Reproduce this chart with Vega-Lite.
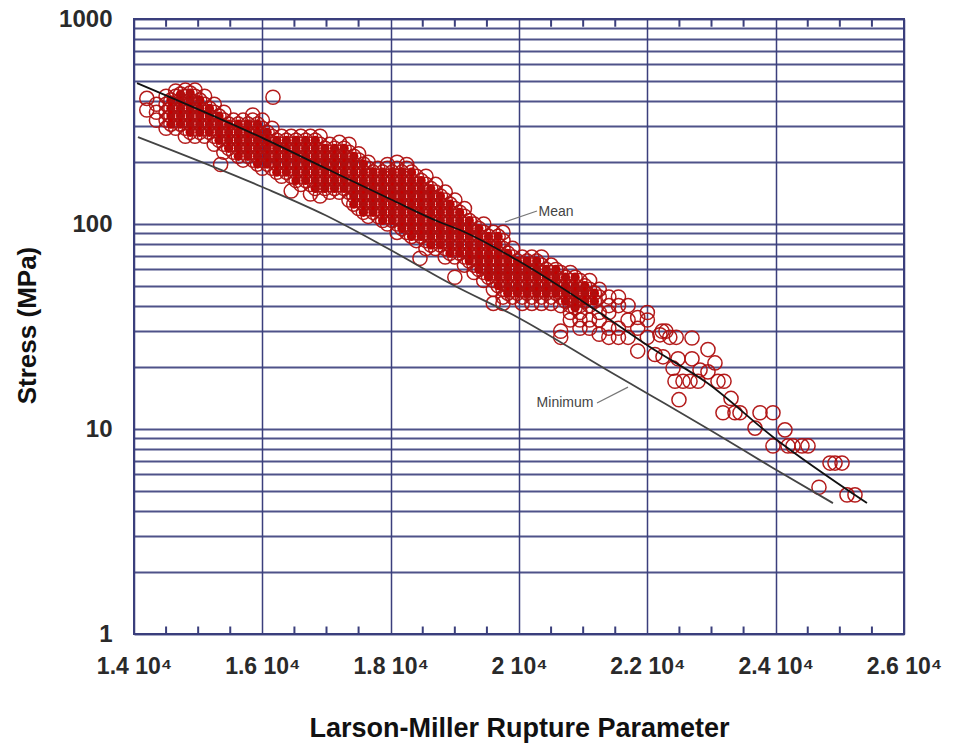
{"$schema":"https://vega.github.io/schema/vega-lite/v6.json","width":770,"height":615,"autosize":"none","padding":{"left":134,"top":19,"right":51,"bottom":109},"background":"white",
"config":{"view":{"stroke":"#3b3f7c","strokeWidth":2},"font":"Liberation Sans"},
"datasets":{
"minorTicks":[{"lmp":14500,"at":1.04},{"lmp":15000,"at":1.04},{"lmp":15500,"at":1.04},{"lmp":16500,"at":1.04},{"lmp":17000,"at":1.04},{"lmp":17500,"at":1.04},{"lmp":18500,"at":1.04},{"lmp":19000,"at":1.04},{"lmp":19500,"at":1.04},{"lmp":20500,"at":1.04},{"lmp":21000,"at":1.04},{"lmp":21500,"at":1.04},{"lmp":22500,"at":1.04},{"lmp":23000,"at":1.04},{"lmp":23500,"at":1.04},{"lmp":24500,"at":1.04},{"lmp":25000,"at":1.04},{"lmp":25500,"at":1.04},
{"lmp":14500,"at":959},{"lmp":15000,"at":959},{"lmp":15500,"at":959},{"lmp":16500,"at":959},{"lmp":17000,"at":959},{"lmp":17500,"at":959},{"lmp":18500,"at":959},{"lmp":19000,"at":959},{"lmp":19500,"at":959},{"lmp":20500,"at":959},{"lmp":21000,"at":959},{"lmp":21500,"at":959},{"lmp":22500,"at":959},{"lmp":23000,"at":959},{"lmp":23500,"at":959},{"lmp":24500,"at":959},{"lmp":25000,"at":959},{"lmp":25500,"at":959}],
"curves":[{"curve":"Mean","lmp":14047,"stress":487},{"curve":"Mean","lmp":16000,"stress":263},{"curve":"Mean","lmp":16977,"stress":187.6},{"curve":"Mean","lmp":17990,"stress":132.4},{"curve":"Mean","lmp":18769,"stress":102},{"curve":"Mean","lmp":19080,"stress":93.5},{"curve":"Mean","lmp":19969,"stress":66.7},{"curve":"Mean","lmp":21262,"stress":36.8},{"curve":"Mean","lmp":22041,"stress":25.1},{"curve":"Mean","lmp":22930,"stress":16.8},{"curve":"Mean","lmp":23958,"stress":9.14},{"curve":"Mean","lmp":25423,"stress":4.35},
{"curve":"Minimum","lmp":14062,"stress":265.6},{"curve":"Minimum","lmp":16000,"stress":151.5},{"curve":"Minimum","lmp":16977,"stress":110.6},{"curve":"Minimum","lmp":17943,"stress":76.4},{"curve":"Minimum","lmp":18972,"stress":50.4},{"curve":"Minimum","lmp":19969,"stress":35.2},{"curve":"Minimum","lmp":21371,"stress":19.4},{"curve":"Minimum","lmp":22041,"stress":14.66},{"curve":"Minimum","lmp":22976,"stress":9.89},{"curve":"Minimum","lmp":23958,"stress":6.45},{"curve":"Minimum","lmp":24893,"stress":4.35}],
"notes":[{"name":"Mean","lmp":20577,"stress":114.4,"lmp2":19782,"stress2":102.3,"lmp1":20280,"stress1":115.7},{"name":"Minimum","lmp":20717,"stress":13.4,"lmp2":21699,"stress2":16,"lmp1":21216,"stress1":13.4}],
"points":[
{"lmp":14200,"stress":360},{"lmp":14200,"stress":410},
{"lmp":14350,"stress":321},{"lmp":14350,"stress":351},{"lmp":14350,"stress":384},
{"lmp":14500,"stress":293},{"lmp":14500,"stress":321},{"lmp":14500,"stress":351},{"lmp":14500,"stress":384},{"lmp":14500,"stress":420},
{"lmp":14650,"stress":293},{"lmp":14650,"stress":321},{"lmp":14650,"stress":351},{"lmp":14650,"stress":384},{"lmp":14650,"stress":420},{"lmp":14650,"stress":445},
{"lmp":14800,"stress":268},{"lmp":14800,"stress":293},{"lmp":14800,"stress":321},{"lmp":14800,"stress":351},{"lmp":14800,"stress":384},{"lmp":14800,"stress":420},{"lmp":14800,"stress":450},
{"lmp":14950,"stress":268},{"lmp":14950,"stress":293},{"lmp":14950,"stress":321},{"lmp":14950,"stress":351},{"lmp":14950,"stress":384},{"lmp":14950,"stress":420},{"lmp":14950,"stress":450},
{"lmp":15100,"stress":268},{"lmp":15100,"stress":293},{"lmp":15100,"stress":321},{"lmp":15100,"stress":351},{"lmp":15100,"stress":384},{"lmp":15100,"stress":420},
{"lmp":15250,"stress":245},{"lmp":15250,"stress":268},{"lmp":15250,"stress":293},{"lmp":15250,"stress":321},{"lmp":15250,"stress":351},{"lmp":15250,"stress":384},
{"lmp":15350,"stress":195},
{"lmp":15400,"stress":224},{"lmp":15400,"stress":245},{"lmp":15400,"stress":268},{"lmp":15400,"stress":293},{"lmp":15400,"stress":321},{"lmp":15400,"stress":351},
{"lmp":15550,"stress":224},{"lmp":15550,"stress":245},{"lmp":15550,"stress":268},{"lmp":15550,"stress":293},{"lmp":15550,"stress":321},
{"lmp":15700,"stress":205},{"lmp":15700,"stress":224},{"lmp":15700,"stress":245},{"lmp":15700,"stress":268},{"lmp":15700,"stress":293},{"lmp":15700,"stress":321},
{"lmp":15850,"stress":205},{"lmp":15850,"stress":224},{"lmp":15850,"stress":245},{"lmp":15850,"stress":268},{"lmp":15850,"stress":293},{"lmp":15850,"stress":321},{"lmp":15850,"stress":340},
{"lmp":16000,"stress":187},{"lmp":16000,"stress":205},{"lmp":16000,"stress":224},{"lmp":16000,"stress":245},{"lmp":16000,"stress":268},{"lmp":16000,"stress":293},{"lmp":16000,"stress":321},
{"lmp":16150,"stress":187},{"lmp":16150,"stress":205},{"lmp":16150,"stress":224},{"lmp":16150,"stress":245},{"lmp":16150,"stress":268},{"lmp":16150,"stress":293},{"lmp":16166,"stress":415},
{"lmp":16300,"stress":171},{"lmp":16300,"stress":187},{"lmp":16300,"stress":205},{"lmp":16300,"stress":224},{"lmp":16300,"stress":245},{"lmp":16300,"stress":268},
{"lmp":16450,"stress":145},{"lmp":16450,"stress":171},{"lmp":16450,"stress":187},{"lmp":16450,"stress":205},{"lmp":16450,"stress":224},{"lmp":16450,"stress":245},{"lmp":16450,"stress":268},
{"lmp":16600,"stress":156},{"lmp":16600,"stress":171},{"lmp":16600,"stress":187},{"lmp":16600,"stress":205},{"lmp":16600,"stress":224},{"lmp":16600,"stress":245},{"lmp":16600,"stress":268},
{"lmp":16750,"stress":140},{"lmp":16750,"stress":156},{"lmp":16750,"stress":171},{"lmp":16750,"stress":187},{"lmp":16750,"stress":205},{"lmp":16750,"stress":224},{"lmp":16750,"stress":245},{"lmp":16750,"stress":268},
{"lmp":16900,"stress":137},{"lmp":16900,"stress":156},{"lmp":16900,"stress":171},{"lmp":16900,"stress":187},{"lmp":16900,"stress":205},{"lmp":16900,"stress":224},{"lmp":16900,"stress":245},{"lmp":16900,"stress":268},
{"lmp":17050,"stress":143},{"lmp":17050,"stress":156},{"lmp":17050,"stress":171},{"lmp":17050,"stress":187},{"lmp":17050,"stress":205},{"lmp":17050,"stress":224},{"lmp":17050,"stress":245},
{"lmp":17200,"stress":143},{"lmp":17200,"stress":156},{"lmp":17200,"stress":171},{"lmp":17200,"stress":187},{"lmp":17200,"stress":205},{"lmp":17200,"stress":224},{"lmp":17200,"stress":250},
{"lmp":17350,"stress":131},{"lmp":17350,"stress":143},{"lmp":17350,"stress":156},{"lmp":17350,"stress":171},{"lmp":17350,"stress":187},{"lmp":17350,"stress":205},{"lmp":17350,"stress":224},{"lmp":17350,"stress":245},
{"lmp":17500,"stress":119},{"lmp":17500,"stress":131},{"lmp":17500,"stress":143},{"lmp":17500,"stress":156},{"lmp":17500,"stress":171},{"lmp":17500,"stress":187},{"lmp":17500,"stress":205},{"lmp":17500,"stress":220},
{"lmp":17650,"stress":109},{"lmp":17650,"stress":119},{"lmp":17650,"stress":131},{"lmp":17650,"stress":143},{"lmp":17650,"stress":156},{"lmp":17650,"stress":171},{"lmp":17650,"stress":187},{"lmp":17650,"stress":200},
{"lmp":17800,"stress":109},{"lmp":17800,"stress":119},{"lmp":17800,"stress":131},{"lmp":17800,"stress":143},{"lmp":17800,"stress":156},{"lmp":17800,"stress":171},{"lmp":17800,"stress":187},
{"lmp":17950,"stress":100},{"lmp":17950,"stress":109},{"lmp":17950,"stress":119},{"lmp":17950,"stress":131},{"lmp":17950,"stress":143},{"lmp":17950,"stress":156},{"lmp":17950,"stress":171},{"lmp":17950,"stress":187},{"lmp":17950,"stress":195},
{"lmp":18100,"stress":91},{"lmp":18100,"stress":100},{"lmp":18100,"stress":109},{"lmp":18100,"stress":119},{"lmp":18100,"stress":131},{"lmp":18100,"stress":143},{"lmp":18100,"stress":156},{"lmp":18100,"stress":171},{"lmp":18100,"stress":187},{"lmp":18100,"stress":200},
{"lmp":18250,"stress":91},{"lmp":18250,"stress":100},{"lmp":18250,"stress":109},{"lmp":18250,"stress":119},{"lmp":18250,"stress":131},{"lmp":18250,"stress":143},{"lmp":18250,"stress":156},{"lmp":18250,"stress":171},{"lmp":18250,"stress":187},{"lmp":18250,"stress":195},
{"lmp":18400,"stress":83},{"lmp":18400,"stress":91},{"lmp":18400,"stress":100},{"lmp":18400,"stress":109},{"lmp":18400,"stress":119},{"lmp":18400,"stress":131},{"lmp":18400,"stress":143},{"lmp":18400,"stress":156},{"lmp":18400,"stress":171},{"lmp":18457,"stress":68},
{"lmp":18550,"stress":76},{"lmp":18550,"stress":83},{"lmp":18550,"stress":91},{"lmp":18550,"stress":100},{"lmp":18550,"stress":109},{"lmp":18550,"stress":119},{"lmp":18550,"stress":131},{"lmp":18550,"stress":143},{"lmp":18550,"stress":156},{"lmp":18550,"stress":171},
{"lmp":18700,"stress":76},{"lmp":18700,"stress":83},{"lmp":18700,"stress":91},{"lmp":18700,"stress":100},{"lmp":18700,"stress":109},{"lmp":18700,"stress":119},{"lmp":18700,"stress":131},{"lmp":18700,"stress":143},{"lmp":18700,"stress":156},
{"lmp":18850,"stress":69},{"lmp":18850,"stress":76},{"lmp":18850,"stress":83},{"lmp":18850,"stress":91},{"lmp":18850,"stress":100},{"lmp":18850,"stress":109},{"lmp":18850,"stress":119},{"lmp":18850,"stress":131},{"lmp":18850,"stress":143},
{"lmp":19000,"stress":55},{"lmp":19000,"stress":69},{"lmp":19000,"stress":76},{"lmp":19000,"stress":83},{"lmp":19000,"stress":91},{"lmp":19000,"stress":100},{"lmp":19000,"stress":109},{"lmp":19000,"stress":119},{"lmp":19000,"stress":131},
{"lmp":19150,"stress":63},{"lmp":19150,"stress":69},{"lmp":19150,"stress":76},{"lmp":19150,"stress":83},{"lmp":19150,"stress":91},{"lmp":19150,"stress":100},{"lmp":19150,"stress":109},{"lmp":19150,"stress":119},
{"lmp":19300,"stress":58},{"lmp":19300,"stress":63},{"lmp":19300,"stress":69},{"lmp":19300,"stress":76},{"lmp":19300,"stress":83},{"lmp":19300,"stress":91},{"lmp":19300,"stress":100},
{"lmp":19450,"stress":53},{"lmp":19450,"stress":58},{"lmp":19450,"stress":63},{"lmp":19450,"stress":69},{"lmp":19450,"stress":76},{"lmp":19450,"stress":83},{"lmp":19450,"stress":91},{"lmp":19450,"stress":100},
{"lmp":19600,"stress":41},{"lmp":19600,"stress":48},{"lmp":19600,"stress":53},{"lmp":19600,"stress":58},{"lmp":19600,"stress":63},{"lmp":19600,"stress":69},{"lmp":19600,"stress":76},{"lmp":19600,"stress":83},{"lmp":19600,"stress":91},
{"lmp":19750,"stress":41},{"lmp":19750,"stress":44},{"lmp":19750,"stress":48},{"lmp":19750,"stress":53},{"lmp":19750,"stress":58},{"lmp":19750,"stress":63},{"lmp":19750,"stress":69},{"lmp":19750,"stress":76},{"lmp":19750,"stress":83},{"lmp":19750,"stress":91},
{"lmp":19900,"stress":44},{"lmp":19900,"stress":48},{"lmp":19900,"stress":53},{"lmp":19900,"stress":58},{"lmp":19900,"stress":63},{"lmp":19900,"stress":69},{"lmp":19900,"stress":76},
{"lmp":20050,"stress":41},{"lmp":20050,"stress":44},{"lmp":20050,"stress":48},{"lmp":20050,"stress":53},{"lmp":20050,"stress":58},{"lmp":20050,"stress":63},{"lmp":20050,"stress":69},
{"lmp":20200,"stress":41},{"lmp":20200,"stress":44},{"lmp":20200,"stress":48},{"lmp":20200,"stress":53},{"lmp":20200,"stress":58},{"lmp":20200,"stress":63},{"lmp":20200,"stress":69},
{"lmp":20350,"stress":41},{"lmp":20350,"stress":44},{"lmp":20350,"stress":48},{"lmp":20350,"stress":53},{"lmp":20350,"stress":58},{"lmp":20350,"stress":63},{"lmp":20350,"stress":69},
{"lmp":20500,"stress":41},{"lmp":20500,"stress":44},{"lmp":20500,"stress":48},{"lmp":20500,"stress":53},{"lmp":20500,"stress":58},{"lmp":20500,"stress":63},
{"lmp":20650,"stress":28},{"lmp":20650,"stress":30},{"lmp":20650,"stress":40},{"lmp":20650,"stress":44},{"lmp":20650,"stress":48},{"lmp":20650,"stress":53},{"lmp":20650,"stress":58},
{"lmp":20800,"stress":34},{"lmp":20800,"stress":37},{"lmp":20800,"stress":40},{"lmp":20800,"stress":44},{"lmp":20800,"stress":48},{"lmp":20800,"stress":53},{"lmp":20800,"stress":58},
{"lmp":20950,"stress":31},{"lmp":20950,"stress":34},{"lmp":20950,"stress":37},{"lmp":20950,"stress":40},{"lmp":20950,"stress":44},{"lmp":20950,"stress":48},{"lmp":20950,"stress":53},
{"lmp":21100,"stress":31},{"lmp":21100,"stress":34},{"lmp":21100,"stress":40},{"lmp":21100,"stress":44},{"lmp":21100,"stress":48},{"lmp":21100,"stress":53},
{"lmp":21250,"stress":29},{"lmp":21250,"stress":34},{"lmp":21250,"stress":37},{"lmp":21250,"stress":44},{"lmp":21250,"stress":48},
{"lmp":21400,"stress":28},{"lmp":21400,"stress":31},{"lmp":21400,"stress":37},{"lmp":21400,"stress":40},{"lmp":21400,"stress":44},
{"lmp":21550,"stress":28},{"lmp":21550,"stress":31},{"lmp":21550,"stress":40},{"lmp":21550,"stress":44},
{"lmp":21700,"stress":28},{"lmp":21700,"stress":34},{"lmp":21700,"stress":40},
{"lmp":21850,"stress":24},{"lmp":21850,"stress":31},{"lmp":21850,"stress":35},
{"lmp":22000,"stress":28},{"lmp":22000,"stress":34},{"lmp":22000,"stress":37},
{"lmp":22119,"stress":23.1},{"lmp":22197,"stress":28.8},{"lmp":22244,"stress":22.5},{"lmp":22230,"stress":30},{"lmp":22290,"stress":30},{"lmp":22350,"stress":28},{"lmp":22450,"stress":28},{"lmp":22696,"stress":27.8},{"lmp":22945,"stress":24.4},{"lmp":22478,"stress":22},{"lmp":22696,"stress":22},{"lmp":23054,"stress":21},{"lmp":22400,"stress":19.8},{"lmp":22821,"stress":19.4},{"lmp":22945,"stress":19},{"lmp":22431,"stress":17.1},{"lmp":22556,"stress":17.1},{"lmp":22665,"stress":17.1},{"lmp":22790,"stress":17.1},{"lmp":23101,"stress":17.1},{"lmp":23195,"stress":17.1},{"lmp":22493,"stress":13.9},{"lmp":23304,"stress":14.1},{"lmp":23179,"stress":12},{"lmp":23366,"stress":12},{"lmp":23444,"stress":12},{"lmp":23756,"stress":12},{"lmp":23958,"stress":12},{"lmp":23678,"stress":10.1},{"lmp":24145,"stress":9.9},{"lmp":23958,"stress":8.27},{"lmp":24192,"stress":8.27},{"lmp":24270,"stress":8.27},{"lmp":24410,"stress":8.27},{"lmp":24504,"stress":8.27},{"lmp":24847,"stress":6.82},{"lmp":24925,"stress":6.82},{"lmp":25034,"stress":6.82},{"lmp":24675,"stress":5.2},{"lmp":25112,"stress":4.77},{"lmp":25236,"stress":4.77},
{"lmp":14575,"stress":307},{"lmp":14575,"stress":336},{"lmp":14575,"stress":367},{"lmp":14575,"stress":402},
{"lmp":14725,"stress":307},{"lmp":14725,"stress":336},{"lmp":14725,"stress":367},{"lmp":14725,"stress":402},{"lmp":14725,"stress":430},
{"lmp":14875,"stress":280},{"lmp":14875,"stress":307},{"lmp":14875,"stress":336},{"lmp":14875,"stress":367},{"lmp":14875,"stress":402},{"lmp":14875,"stress":435},
{"lmp":15025,"stress":280},{"lmp":15025,"stress":307},{"lmp":15025,"stress":336},{"lmp":15025,"stress":367},{"lmp":15025,"stress":402},
{"lmp":15175,"stress":280},{"lmp":15175,"stress":307},{"lmp":15175,"stress":336},{"lmp":15175,"stress":367},
{"lmp":15325,"stress":256},{"lmp":15325,"stress":280},{"lmp":15325,"stress":307},{"lmp":15325,"stress":336},
{"lmp":15475,"stress":234},{"lmp":15475,"stress":256},{"lmp":15475,"stress":280},{"lmp":15475,"stress":307},
{"lmp":15625,"stress":214},{"lmp":15625,"stress":234},{"lmp":15625,"stress":256},{"lmp":15625,"stress":280},{"lmp":15625,"stress":307},
{"lmp":15775,"stress":214},{"lmp":15775,"stress":234},{"lmp":15775,"stress":256},{"lmp":15775,"stress":280},{"lmp":15775,"stress":307},
{"lmp":15925,"stress":196},{"lmp":15925,"stress":214},{"lmp":15925,"stress":234},{"lmp":15925,"stress":256},{"lmp":15925,"stress":280},{"lmp":15925,"stress":307},
{"lmp":16075,"stress":196},{"lmp":16075,"stress":214},{"lmp":16075,"stress":234},{"lmp":16075,"stress":256},{"lmp":16075,"stress":280},
{"lmp":16225,"stress":179},{"lmp":16225,"stress":196},{"lmp":16225,"stress":214},{"lmp":16225,"stress":234},{"lmp":16225,"stress":256},
{"lmp":16375,"stress":179},{"lmp":16375,"stress":196},{"lmp":16375,"stress":214},{"lmp":16375,"stress":234},{"lmp":16375,"stress":256},
{"lmp":16525,"stress":163},{"lmp":16525,"stress":179},{"lmp":16525,"stress":196},{"lmp":16525,"stress":214},{"lmp":16525,"stress":234},{"lmp":16525,"stress":256},
{"lmp":16675,"stress":163},{"lmp":16675,"stress":179},{"lmp":16675,"stress":196},{"lmp":16675,"stress":214},{"lmp":16675,"stress":234},{"lmp":16675,"stress":256},
{"lmp":16825,"stress":149},{"lmp":16825,"stress":163},{"lmp":16825,"stress":179},{"lmp":16825,"stress":196},{"lmp":16825,"stress":214},{"lmp":16825,"stress":234},{"lmp":16825,"stress":256},
{"lmp":16975,"stress":149},{"lmp":16975,"stress":163},{"lmp":16975,"stress":179},{"lmp":16975,"stress":196},{"lmp":16975,"stress":214},{"lmp":16975,"stress":234},
{"lmp":17125,"stress":149},{"lmp":17125,"stress":163},{"lmp":17125,"stress":179},{"lmp":17125,"stress":196},{"lmp":17125,"stress":214},{"lmp":17125,"stress":234},
{"lmp":17275,"stress":149},{"lmp":17275,"stress":163},{"lmp":17275,"stress":179},{"lmp":17275,"stress":196},{"lmp":17275,"stress":214},{"lmp":17275,"stress":234},
{"lmp":17425,"stress":125},{"lmp":17425,"stress":137},{"lmp":17425,"stress":149},{"lmp":17425,"stress":163},{"lmp":17425,"stress":179},{"lmp":17425,"stress":196},{"lmp":17425,"stress":214},
{"lmp":17575,"stress":114},{"lmp":17575,"stress":125},{"lmp":17575,"stress":137},{"lmp":17575,"stress":149},{"lmp":17575,"stress":163},{"lmp":17575,"stress":179},{"lmp":17575,"stress":196},
{"lmp":17725,"stress":114},{"lmp":17725,"stress":125},{"lmp":17725,"stress":137},{"lmp":17725,"stress":149},{"lmp":17725,"stress":163},{"lmp":17725,"stress":179},
{"lmp":17875,"stress":104},{"lmp":17875,"stress":114},{"lmp":17875,"stress":125},{"lmp":17875,"stress":137},{"lmp":17875,"stress":149},{"lmp":17875,"stress":163},{"lmp":17875,"stress":179},
{"lmp":18025,"stress":104},{"lmp":18025,"stress":114},{"lmp":18025,"stress":125},{"lmp":18025,"stress":137},{"lmp":18025,"stress":149},{"lmp":18025,"stress":163},{"lmp":18025,"stress":179},
{"lmp":18175,"stress":95},{"lmp":18175,"stress":104},{"lmp":18175,"stress":114},{"lmp":18175,"stress":125},{"lmp":18175,"stress":137},{"lmp":18175,"stress":149},{"lmp":18175,"stress":163},{"lmp":18175,"stress":179},
{"lmp":18325,"stress":87},{"lmp":18325,"stress":95},{"lmp":18325,"stress":104},{"lmp":18325,"stress":114},{"lmp":18325,"stress":125},{"lmp":18325,"stress":137},{"lmp":18325,"stress":149},{"lmp":18325,"stress":163},{"lmp":18325,"stress":179},
{"lmp":18475,"stress":87},{"lmp":18475,"stress":95},{"lmp":18475,"stress":104},{"lmp":18475,"stress":114},{"lmp":18475,"stress":125},{"lmp":18475,"stress":137},{"lmp":18475,"stress":149},{"lmp":18475,"stress":163},
{"lmp":18625,"stress":79},{"lmp":18625,"stress":87},{"lmp":18625,"stress":95},{"lmp":18625,"stress":104},{"lmp":18625,"stress":114},{"lmp":18625,"stress":125},{"lmp":18625,"stress":137},{"lmp":18625,"stress":149},
{"lmp":18775,"stress":79},{"lmp":18775,"stress":87},{"lmp":18775,"stress":95},{"lmp":18775,"stress":104},{"lmp":18775,"stress":114},{"lmp":18775,"stress":125},{"lmp":18775,"stress":137},
{"lmp":18925,"stress":72},{"lmp":18925,"stress":79},{"lmp":18925,"stress":87},{"lmp":18925,"stress":95},{"lmp":18925,"stress":104},{"lmp":18925,"stress":114},{"lmp":18925,"stress":125},
{"lmp":19075,"stress":72},{"lmp":19075,"stress":79},{"lmp":19075,"stress":87},{"lmp":19075,"stress":95},{"lmp":19075,"stress":104},{"lmp":19075,"stress":114},
{"lmp":19225,"stress":66},{"lmp":19225,"stress":72},{"lmp":19225,"stress":79},{"lmp":19225,"stress":87},{"lmp":19225,"stress":95},{"lmp":19225,"stress":104},
{"lmp":19375,"stress":60},{"lmp":19375,"stress":66},{"lmp":19375,"stress":72},{"lmp":19375,"stress":79},{"lmp":19375,"stress":87},{"lmp":19375,"stress":95},
{"lmp":19525,"stress":55},{"lmp":19525,"stress":60},{"lmp":19525,"stress":66},{"lmp":19525,"stress":72},{"lmp":19525,"stress":79},{"lmp":19525,"stress":87},
{"lmp":19675,"stress":50},{"lmp":19675,"stress":55},{"lmp":19675,"stress":60},{"lmp":19675,"stress":66},{"lmp":19675,"stress":72},{"lmp":19675,"stress":79},{"lmp":19675,"stress":87},
{"lmp":19825,"stress":46},{"lmp":19825,"stress":50},{"lmp":19825,"stress":55},{"lmp":19825,"stress":60},{"lmp":19825,"stress":66},{"lmp":19825,"stress":72},
{"lmp":19975,"stress":46},{"lmp":19975,"stress":50},{"lmp":19975,"stress":55},{"lmp":19975,"stress":60},{"lmp":19975,"stress":66},
{"lmp":20125,"stress":46},{"lmp":20125,"stress":50},{"lmp":20125,"stress":55},{"lmp":20125,"stress":60},{"lmp":20125,"stress":66},
{"lmp":20275,"stress":46},{"lmp":20275,"stress":50},{"lmp":20275,"stress":55},{"lmp":20275,"stress":60},{"lmp":20275,"stress":66},
{"lmp":20425,"stress":46},{"lmp":20425,"stress":50},{"lmp":20425,"stress":55},{"lmp":20425,"stress":60},
{"lmp":20575,"stress":46},{"lmp":20575,"stress":50},{"lmp":20575,"stress":55},{"lmp":20575,"stress":60},
{"lmp":20725,"stress":42},{"lmp":20725,"stress":46},{"lmp":20725,"stress":50},{"lmp":20725,"stress":55},
{"lmp":20875,"stress":39},{"lmp":20875,"stress":42},{"lmp":20875,"stress":46},{"lmp":20875,"stress":50},{"lmp":20875,"stress":55},
{"lmp":21025,"stress":42},{"lmp":21025,"stress":46},{"lmp":21025,"stress":50},
{"lmp":21175,"stress":42},{"lmp":21175,"stress":46}
]},
"layer":[
{"data":{"name":"points"},"transform":[{"filter":"datum.lmp%50==25&&datum.lmp<21200"}],"mark":{"type":"point","shape":"circle","filled":true,"size":85,"fill":"#c40000","stroke":null,"opacity":1},"encoding":{
"x":{"field":"lmp","type":"quantitative","scale":{"domain":[14000,26000],"nice":false,"zero":false},
"axis":{"values":[14000,16000,18000,20000,22000,24000,26000],"grid":true,"gridColor":"#3b3f7c","gridWidth":1.5,"gridOpacity":1,"ticks":false,"domain":false,"labelExpr":"format(datum.value/10000,'~g')+' 10⁴'","labelFont":"Liberation Sans","labelFontSize":23,"labelFontWeight":"bold","labelColor":"#2a2a2a","labelPadding":21,"labelFlush":false,"labelOverlap":false,"title":"Larson-Miller Rupture Parameter","titleFont":"Liberation Sans","titleFontSize":27,"titleFontWeight":"bold","titleColor":"#111111","titlePadding":37}},
"y":{"field":"stress","type":"quantitative","scale":{"type":"log","domain":[1,1000],"nice":false},
"axis":{"values":[1,2,3,4,5,6,7,8,9,10,20,30,40,50,60,70,80,90,100,200,300,400,500,600,700,800,900,1000],"grid":true,"gridColor":"#3b3f7c","gridWidth":2,"gridOpacity":0.9,"ticks":false,"domain":false,"labelExpr":"indexof([1,10,100,1000],datum.value)>=0?datum.value+'':''","labelFont":"Liberation Sans","labelFontSize":24,"labelFontWeight":"bold","labelColor":"#2a2a2a","labelPadding":22,"labelOverlap":false,"title":"Stress (MPa)","titleFont":"Liberation Sans","titleFontSize":26,"titleFontWeight":"bold","titleColor":"#111111","titleX":-94,"titleY":306}}}},
{"data":{"name":"points"},"mark":{"type":"point","shape":"circle","filled":false,"size":200,"stroke":"#b01010","strokeWidth":1.5,"opacity":0.95},"encoding":{"x":{"field":"lmp","type":"quantitative"},"y":{"field":"stress","type":"quantitative"}}},
{"data":{"name":"curves"},"mark":{"type":"line","interpolate":"monotone","strokeWidth":1.8},"encoding":{"x":{"field":"lmp","type":"quantitative"},"y":{"field":"stress","type":"quantitative"},"color":{"field":"curve","type":"nominal","scale":{"domain":["Mean","Minimum"],"range":["#111111","#444444"]},"legend":null}}},
{"data":{"name":"minorTicks"},"mark":{"type":"tick","orient":"vertical","size":8,"thickness":2,"color":"#3b3f7c","opacity":1},"encoding":{"x":{"field":"lmp","type":"quantitative"},"y":{"field":"at","type":"quantitative"}}},
{"data":{"name":"notes"},"mark":{"type":"rule","color":"#777777","strokeWidth":1.2},"encoding":{"x":{"field":"lmp1","type":"quantitative"},"x2":{"field":"lmp2"},"y":{"field":"stress1","type":"quantitative"},"y2":{"field":"stress2"}}},
{"data":{"name":"notes"},"mark":{"type":"text","font":"Liberation Sans","fontSize":14,"color":"#444444"},"encoding":{"x":{"field":"lmp","type":"quantitative"},"y":{"field":"stress","type":"quantitative"},"text":{"field":"name"}}}
]}
